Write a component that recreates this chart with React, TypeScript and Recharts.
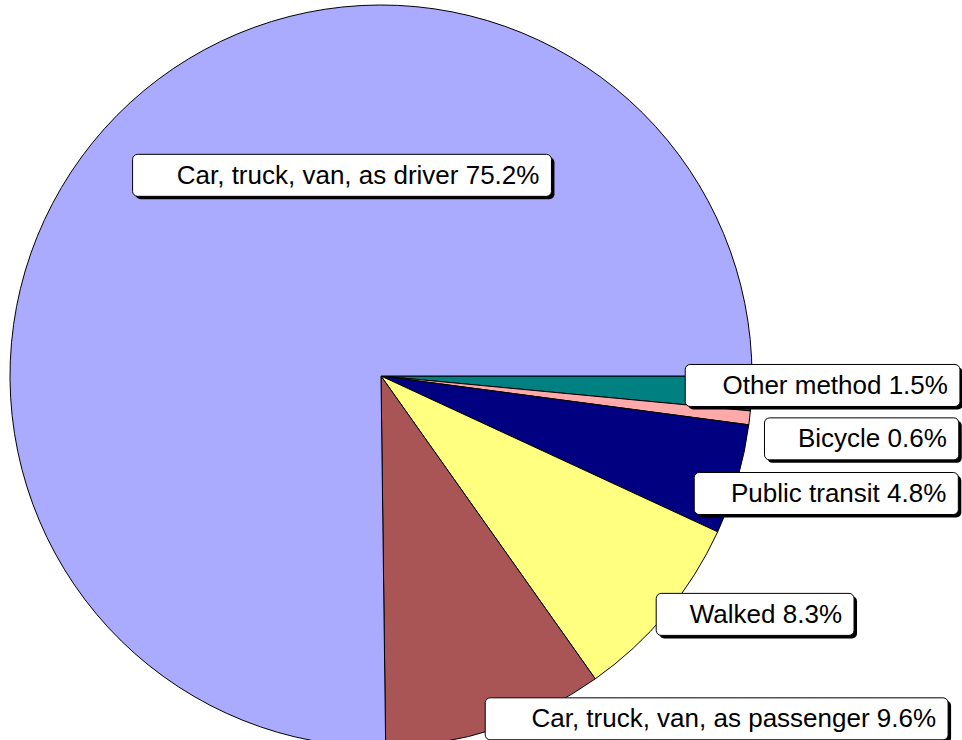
import { PieChart, Pie, Cell } from "recharts";

const MODES = [
  "Other method",
  "Bicycle",
  "Public transit",
  "Walked",
  "Car, truck, van, as passenger",
  "Car, truck, van, as driver",
];

const SHARES = [1.5, 0.6, 4.8, 8.3, 9.6, 75.2];

const COLORS = ["#008080", "#FFAAAA", "#000080", "#FFFF80", "#AA5555", "#AAAAFF"];

// where each label box sits, relative to the slice's mid point on the rim
const LABEL_SHIFT: [number, number][] = [
  [71, -8],
  [112, 21],
  [89, 14],
  [89, 1],
  [221, -10],
  [225, 60],
];

const FONT = "'Liberation Sans', Arial, sans-serif";
const FONT_SIZE = 26;
const RAD = Math.PI / 180;

const data = MODES.map((name, i) => ({ name, value: SHARES[i] }));

let measureCtx: CanvasRenderingContext2D | null = null;
function textWidth(s: string) {
  if (!measureCtx) measureCtx = document.createElement("canvas").getContext("2d");
  if (!measureCtx) return s.length * FONT_SIZE * 0.5;
  measureCtx.font = `${FONT_SIZE}px ${FONT}`;
  return measureCtx.measureText(s).width;
}

// eslint-disable-next-line @typescript-eslint/no-explicit-any
function BoxLabel(props: any) {
  const { cx, cy, midAngle, outerRadius, index } = props;
  const text = `${MODES[index]} ${SHARES[index].toFixed(1)}%`;
  const px = cx + outerRadius * Math.cos(-midAngle * RAD);
  const py = cy + outerRadius * Math.sin(-midAngle * RAD);
  const [dx, dy] = LABEL_SHIFT[index];
  const w = textWidth(text) * 1.05 + 38;
  const h = 42;
  const x = px + dx - w / 2;
  const y = py + dy - h / 2;
  return (
    <g>
      <rect x={x + 3} y={y + 3} width={w} height={h} rx={5} fill="#000" />
      <rect x={x} y={y} width={w} height={h} rx={5} fill="#fff" stroke="#000" strokeWidth={1} />
      <text
        x={x + w - 12}
        y={y + h / 2 + 8.5}
        textAnchor="end"
        fontFamily={FONT}
        fontSize={FONT_SIZE}
        fill="#000"
      >
        {text}
      </text>
    </g>
  );
}

export default function App() {
  return (
    <div style={{ width: 962, height: 740, background: "#fff" }}>
      <style>{`body{margin:0}`}</style>
      <PieChart width={962} height={740} margin={{ top: 0, right: 0, bottom: 0, left: 0 }}>
        <Pie
          data={data}
          dataKey="value"
          nameKey="name"
          cx={381}
          cy={376}
          outerRadius={371}
          startAngle={0}
          endAngle={-360}
          stroke="#000"
          strokeWidth={1}
          labelLine={false}
          label={BoxLabel}
          isAnimationActive={false}
        >
          {data.map((d, i) => (
            <Cell key={d.name} fill={COLORS[i]} />
          ))}
        </Pie>
      </PieChart>
    </div>
  );
}
